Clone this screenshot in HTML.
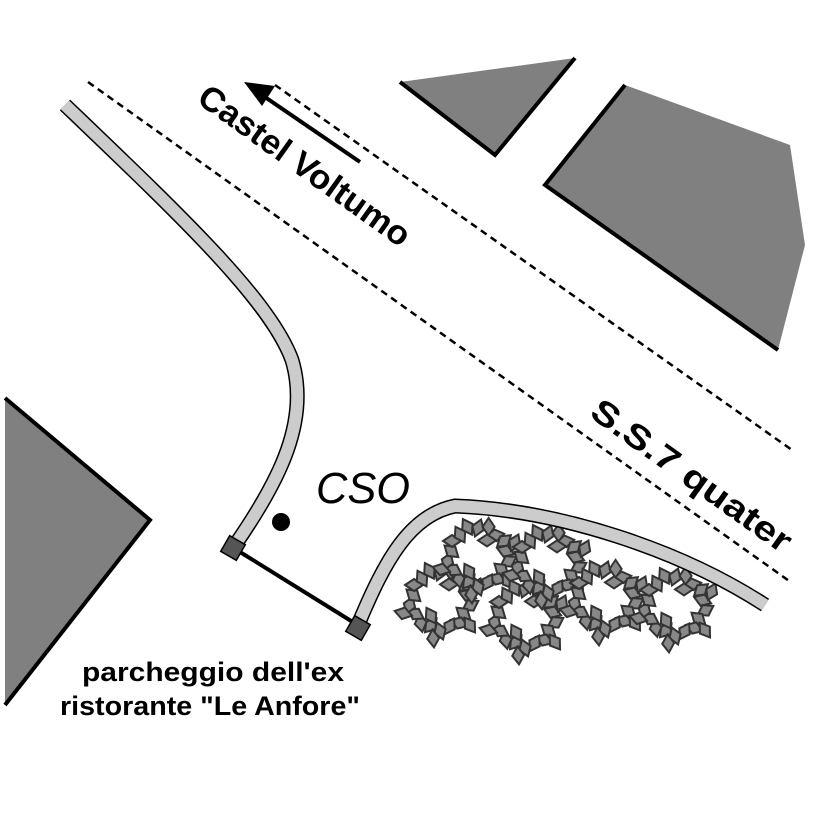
<!DOCTYPE html>
<html><head><style>body{margin:0;background:#fff}svg{display:block}</style></head>
<body>
<svg width="826" height="826" viewBox="0 0 826 826" xmlns="http://www.w3.org/2000/svg">
<defs>
<polygon id="lf" points="0,-9 6,0 0,9 -6,0" fill="#888" stroke="#333" stroke-width="2"/>
<g id="ring">
<use href="#lf" transform="rotate(0) translate(0,-28) rotate(20)"/>
<use href="#lf" transform="rotate(20) translate(0,-31) rotate(-20)"/>
<use href="#lf" transform="rotate(40) translate(0,-27) rotate(40)"/>
<use href="#lf" transform="rotate(60) translate(0,-30) rotate(-10)"/>
<use href="#lf" transform="rotate(80) translate(0,-28) rotate(30)"/>
<use href="#lf" transform="rotate(100) translate(0,-31) rotate(-40)"/>
<use href="#lf" transform="rotate(120) translate(0,-27) rotate(10)"/>
<use href="#lf" transform="rotate(140) translate(0,-30) rotate(-30)"/>
<use href="#lf" transform="rotate(160) translate(0,-28) rotate(50)"/>
<use href="#lf" transform="rotate(180) translate(0,-31) rotate(-20)"/>
<use href="#lf" transform="rotate(200) translate(0,-27) rotate(20)"/>
<use href="#lf" transform="rotate(220) translate(0,-30) rotate(-50)"/>
<use href="#lf" transform="rotate(240) translate(0,-28) rotate(60)"/>
<use href="#lf" transform="rotate(260) translate(0,-31) rotate(-60)"/>
<use href="#lf" transform="rotate(280) translate(0,-27) rotate(30)"/>
<use href="#lf" transform="rotate(300) translate(0,-30) rotate(-30)"/>
<use href="#lf" transform="rotate(320) translate(0,-28) rotate(10)"/>
<use href="#lf" transform="rotate(340) translate(0,-31) rotate(-10)"/>
<use href="#lf" transform="rotate(70) translate(0,-39) rotate(-45)"/>
<use href="#lf" transform="rotate(130) translate(0,-39) rotate(15)"/>
<use href="#lf" transform="rotate(190) translate(0,-39) rotate(-15)"/>
<use href="#lf" transform="rotate(250) translate(0,-39) rotate(35)"/>
<use href="#lf" transform="rotate(30) translate(0,-18) rotate(60)"/>
<use href="#lf" transform="rotate(210) translate(0,-18) rotate(-60)"/>
</g>
</defs>
<polygon points="5,398 150,520 5,705" fill="#808080"/>
<polyline points="5,398 150,520 5,705" fill="none" stroke="#000" stroke-width="4"/>
<polygon points="400,82 575,58 495,155" fill="#808080"/>
<polyline points="400,82 495,155 575,58" fill="none" stroke="#000" stroke-width="4"/>
<polygon points="545,185 625,85 790,145 805,245 778,350" fill="#808080"/>
<polyline points="625,85 545,185 778,350" fill="none" stroke="#000" stroke-width="4"/>
<line x1="88" y1="82" x2="792" y2="583" stroke="#000" stroke-width="2.5" stroke-dasharray="7,5"/>
<line x1="275" y1="85" x2="792" y2="450" stroke="#000" stroke-width="2.5" stroke-dasharray="7,5"/>
<line x1="360" y1="162" x2="262" y2="95" stroke="#000" stroke-width="4"/>
<polygon points="244,82 275,86 262,106" fill="#000"/>
<path d="M65,105 C180,215 270,300 292,360 C310,420 280,480 235,545" fill="none" stroke="#000" stroke-width="15"/>
<path d="M65,105 C180,215 270,300 292,360 C310,420 280,480 235,545" fill="none" stroke="#ccc" stroke-width="12"/>
<line x1="240" y1="552" x2="356" y2="624" stroke="#000" stroke-width="4"/>
<rect x="-9" y="-9" width="18" height="18" fill="#555" stroke="#000" stroke-width="1.5" transform="translate(233,548) rotate(30)"/>
<circle cx="281" cy="522" r="9" fill="#000"/>
<use href="#ring" transform="translate(440,600)"/>
<use href="#ring" transform="translate(478,556)"/>
<use href="#ring" transform="translate(525,617)"/>
<use href="#ring" transform="translate(548,562)"/>
<use href="#ring" transform="translate(605,598)"/>
<use href="#ring" transform="translate(675,605)"/>
<path d="M358,625 C385,560 410,515 455,506 C560,510 680,550 765,605" fill="none" stroke="#000" stroke-width="15"/>
<path d="M358,625 C385,560 410,515 455,506 C560,510 680,550 765,605" fill="none" stroke="#ccc" stroke-width="12"/>
<rect x="-9" y="-9" width="18" height="18" fill="#555" stroke="#000" stroke-width="1.5" transform="translate(358,628) rotate(30)"/>
<g font-family="Liberation Sans, sans-serif" fill="#000">
<text x="0" y="0" font-size="34" font-weight="bold" text-anchor="middle" textLength="252" lengthAdjust="spacingAndGlyphs" transform="translate(298,175) rotate(35.5)">Castel Voltumo</text>
<text x="0" y="0" font-size="34" font-weight="bold" text-anchor="middle" textLength="238" lengthAdjust="spacingAndGlyphs" transform="translate(685,485) rotate(35.5)">S.S.7 quater</text>
<text x="316" y="503" font-size="44" font-style="italic" textLength="94" lengthAdjust="spacingAndGlyphs">CSO</text>
<text x="82" y="681" font-size="27" font-weight="bold" textLength="262" lengthAdjust="spacingAndGlyphs">parcheggio dell'ex</text>
<text x="60" y="715" font-size="27" font-weight="bold" textLength="300" lengthAdjust="spacingAndGlyphs">ristorante "Le Anfore"</text>
</g>
</svg>
</body></html>
